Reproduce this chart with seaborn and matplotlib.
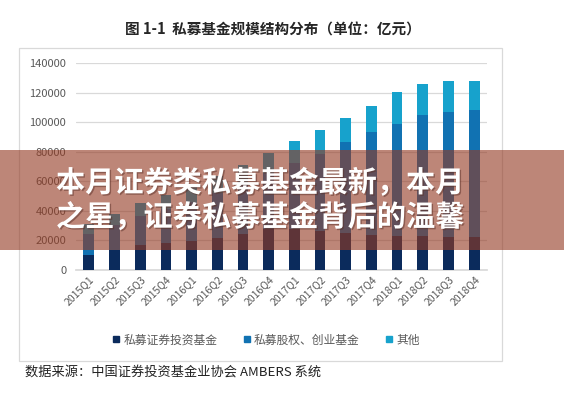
import matplotlib
matplotlib.use("Agg")
import matplotlib.pyplot as plt
import matplotlib.patheffects as pe
from matplotlib.lines import Line2D
from matplotlib.patches import Rectangle
import seaborn as sns
import pandas as pd

# quarters and fund scale by type (unit: 100 million yuan)
quarters = ["2015Q1", "2015Q2", "2015Q3", "2015Q4",
            "2016Q1", "2016Q2", "2016Q3", "2016Q4",
            "2017Q1", "2017Q2", "2017Q3", "2017Q4",
            "2018Q1", "2018Q2", "2018Q3", "2018Q4"]
securities = [10000, 13400, 16800, 18200, 19500, 21500, 24000, 27500,
              27500, 26000, 25000, 23500, 23000, 23000, 22500, 22400]
equity_vc = [14500, 17100, 19700, 22800, 26500, 30500, 34500, 38000,
             44500, 52500, 61800, 70100, 75900, 81500, 84500, 85500]
others = [6500, 7500, 8500, 9700, 10000, 11500, 12500, 13500,
          15300, 16000, 16300, 17400, 21400, 21500, 20800, 19600]

series_names = ["私募证券投资基金", "私募股权、创业基金", "其他"]
colors = ["#0b2b5c", "#1172b2", "#17a2cc"]

df = pd.DataFrame({"quarter": quarters, "s1": securities,
                   "s2": equity_vc, "s3": others})
df["c1"] = df["s1"]
df["c2"] = df["s1"] + df["s2"]
df["c3"] = df["c2"] + df["s3"]

sns.set_theme(style="white")
plt.rcParams["font.family"] = ["Noto Sans CJK SC", "DejaVu Sans"]

fig = plt.figure(figsize=(5.64, 4.0), dpi=100)
ax = fig.add_axes([76 / 564, 1 - 269.8 / 400, 411 / 564, (269.8 - 63) / 400])

# stacked bars: draw cumulative totals from top layer to bottom layer
for col, color in zip(["c3", "c2", "c1"], colors[::-1]):
    sns.barplot(data=df, x="quarter", y=col, color=color, width=0.42,
                order=quarters, saturation=1, linewidth=0, edgecolor="none",
                ax=ax, zorder=3)

ax.set_ylim(0, 140000)
ax.set_yticks(range(0, 140001, 20000))
ax.set_xlim(-0.5, len(quarters) - 0.5)
ax.set_xlabel("")
ax.set_ylabel("")
ax.grid(axis="y", color="#d9d9d9", linewidth=0.9, zorder=0)
ax.set_axisbelow(True)
for side in ["left", "right", "top"]:
    ax.spines[side].set_visible(False)
ax.spines["bottom"].set_color("#d9d9d9")
ax.tick_params(axis="y", length=0, pad=7, labelsize=8, labelcolor="#595959")
ax.tick_params(axis="x", length=0, pad=3, labelsize=7.5, labelcolor="#595959")
plt.setp(ax.get_xticklabels(), rotation=45, ha="right", rotation_mode="anchor")

# chart frame
fig.patches.append(Rectangle((19 / 564, 1 - 361 / 400), (502 - 19) / 564, (361 - 48) / 400,
                             transform=fig.transFigure, fill=False,
                             edgecolor="#d9d9d9", linewidth=0.9, zorder=0))

fig.text(273 / 564, 1 - 30 / 400, "图 1-1  私募基金规模结构分布（单位：亿元）",
         ha="center", va="center", fontsize=10.5, fontweight="bold", color="#262626")

handles = [Line2D([], [], marker="s", linestyle="", markersize=5,
                  markerfacecolor=c, markeredgecolor=c) for c in colors]
fig.legend(handles, series_names, loc="center", bbox_to_anchor=(265 / 564, 1 - 340 / 400),
           ncol=3, frameon=False, fontsize=8.5, labelcolor="#595959",
           handletextpad=0.1, columnspacing=2.0, handlelength=1.0)

fig.text(25 / 564, 1 - 372 / 400, "数据来源：中国证券投资基金业协会 AMBERS 系统",
         ha="left", va="center", fontsize=9.5, color="#222222")

# overlay banner (covers part of the chart, as in the original image)
fig.patches.append(Rectangle((0, 1 - 250 / 400), 1, 100 / 400, transform=fig.transFigure,
                             facecolor=(148 / 255, 58 / 255, 34 / 255), alpha=0.61,
                             edgecolor="none", zorder=5))
shadow = [pe.withSimplePatchShadow(offset=(1, -1), shadow_rgbFace="#5a3028", alpha=0.5)]
fig.text(56 / 564, 1 - 200 / 400, "本月证券类私募基金最新，本月\n之星，证券私募基金背后的温馨",
         ha="left", va="center", fontsize=21, fontweight="bold", color="white",
         linespacing=1.18, zorder=6, path_effects=shadow)

fig.savefig("out.png", dpi=100)
